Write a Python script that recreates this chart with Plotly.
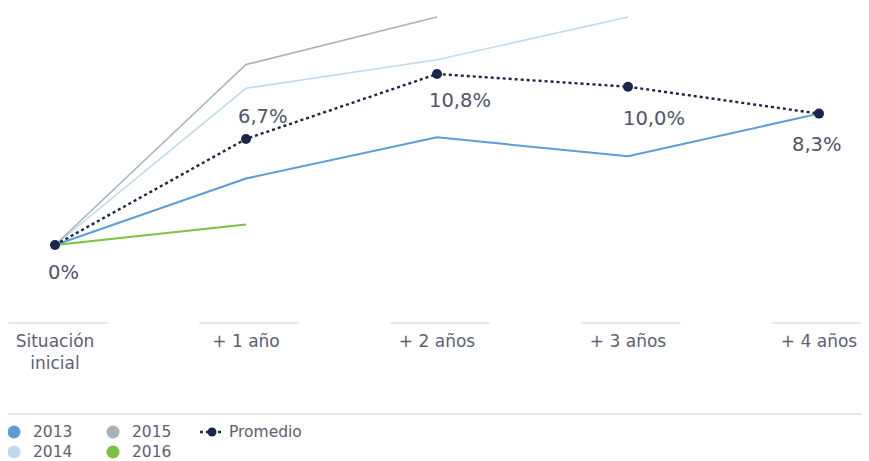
import plotly.graph_objects as go

categories = ["Situación<br>inicial", "+ 1 año", "+ 2 años", "+ 3 años", "+ 4 años"]
x_idx = [0, 1, 2, 3, 4]

s2013 = [0, 4.2, 6.8, 5.6, 8.3]
s2014 = [0, 9.9, 11.7, 14.4]
s2015 = [0, 11.4, 14.4]
s2016 = [0, 1.3]
promedio = [0, 6.7, 10.8, 10.0, 8.3]
promedio_labels = ["0%", "6,7%", "10,8%", "10,0%", "8,3%"]
legend_names = ["2013", "2014", "2015", "2016", "Promedio"]

C2013 = "#5b9dd4"
C2014 = "#bedaee"
C2015 = "#a9b2b8"
C2016 = "#7cc142"
CPROM = "#1a2549"
TXT = "#5c6074"
FONT = "DejaVu Sans"

# page has an 8px body margin: figure drawn at (8, 8) in the window
OFF = 8
W, H = 869 - OFF, 461 - OFF
plot_bottom = 323 - OFF
px_per_unit = 15.83
zero_px = 245 - OFF
zero_x = 55 - OFF
step = 191.0
y_top = zero_px / px_per_unit
y_bot = -(plot_bottom - zero_px) / px_per_unit
x_left = -zero_x / step
x_right = (W - zero_x) / step


def pxx(sx):  # screen x -> paper x
    return (sx - OFF) / W


def pxy(sy):  # screen y -> paper y
    return (plot_bottom - (sy - OFF)) / plot_bottom


fig = go.Figure()

series = [(s2013, C2013, 2), (s2014, C2014, 1.6), (s2015, C2015, 1.6), (s2016, C2016, 2)]
for vals, col, w in series:
    fig.add_trace(go.Scatter(x=x_idx[:len(vals)], y=vals, mode="lines",
                             line=dict(color=col, width=w), showlegend=False,
                             hoverinfo="skip"))

fig.add_trace(go.Scatter(x=x_idx, y=promedio, mode="lines+markers", name="Promedio",
                         line=dict(color=CPROM, width=2.4, dash="dot"),
                         marker=dict(color=CPROM, size=10), showlegend=False))

# data labels
offsets = [(8, -27), (17, 22), (23, -26), (26, -32), (-2, -31)]
for i, (v, lab) in enumerate(zip(promedio, promedio_labels)):
    dx, dy = offsets[i]
    fig.add_annotation(x=x_idx[i], y=v, text=lab, showarrow=False,
                       xshift=dx, yshift=dy,
                       font=dict(family=FONT, size=19.5, color="#50546a"))

shapes = []
for i in x_idx:
    shapes.append(dict(type="line", xref="x", yref="paper", x0=i - 0.245, x1=i + 0.275,
                       y0=0, y1=0, line=dict(color="#e6e7eb", width=2)))
sep_y = pxy(414)
shapes.append(dict(type="line", xref="paper", yref="paper", x0=0, x1=1,
                   y0=sep_y, y1=sep_y, line=dict(color="#e6e7eb", width=2)))

# manual legend (key positions in screen px)
leg_cols = [C2013, C2014, C2015, C2016, CPROM]
leg_key = [(14, 432), (14, 452), (113, 432), (113, 452), (212, 432)]
leg_text_x = [31, 31, 130, 130, 227]
r = 6.5
for name, col, (kx, ky), tx in zip(legend_names, leg_cols, leg_key, leg_text_x):
    if name != "Promedio":
        shapes.append(dict(type="circle", xref="paper", yref="paper",
                           x0=pxx(kx - r), x1=pxx(kx + r), y0=pxy(ky + r), y1=pxy(ky - r),
                           fillcolor=col, line=dict(width=0)))
    else:
        shapes.append(dict(type="line", xref="paper", yref="paper",
                           x0=pxx(kx - 12), x1=pxx(kx + 12), y0=pxy(ky), y1=pxy(ky),
                           line=dict(color=col, width=2.4, dash="dot")))
        shapes.append(dict(type="circle", xref="paper", yref="paper",
                           x0=pxx(kx - 4.5), x1=pxx(kx + 4.5), y0=pxy(ky + 4.5), y1=pxy(ky - 4.5),
                           fillcolor=col, line=dict(width=0)))
    fig.add_annotation(xref="paper", yref="paper", x=pxx(tx), y=pxy(ky),
                       xanchor="left", yanchor="middle", text=name, showarrow=False,
                       font=dict(family=FONT, size=15.5, color=TXT))

fig.update_layout(
    width=W, height=H,
    margin=dict(l=0, r=0, t=0, b=H - plot_bottom, autoexpand=False),
    paper_bgcolor="white", plot_bgcolor="white",
    shapes=shapes, showlegend=False,
    xaxis=dict(range=[x_left, x_right], tickvals=x_idx, ticktext=categories,
               showgrid=False, zeroline=False, showline=False, ticks="",
               automargin=False, ticklabelstandoff=6,
               tickfont=dict(family=FONT, size=17, color=TXT)),
    yaxis=dict(range=[y_bot, y_top], visible=False, automargin=False),
    font=dict(family=FONT),
)

fig.write_html("out.html")
